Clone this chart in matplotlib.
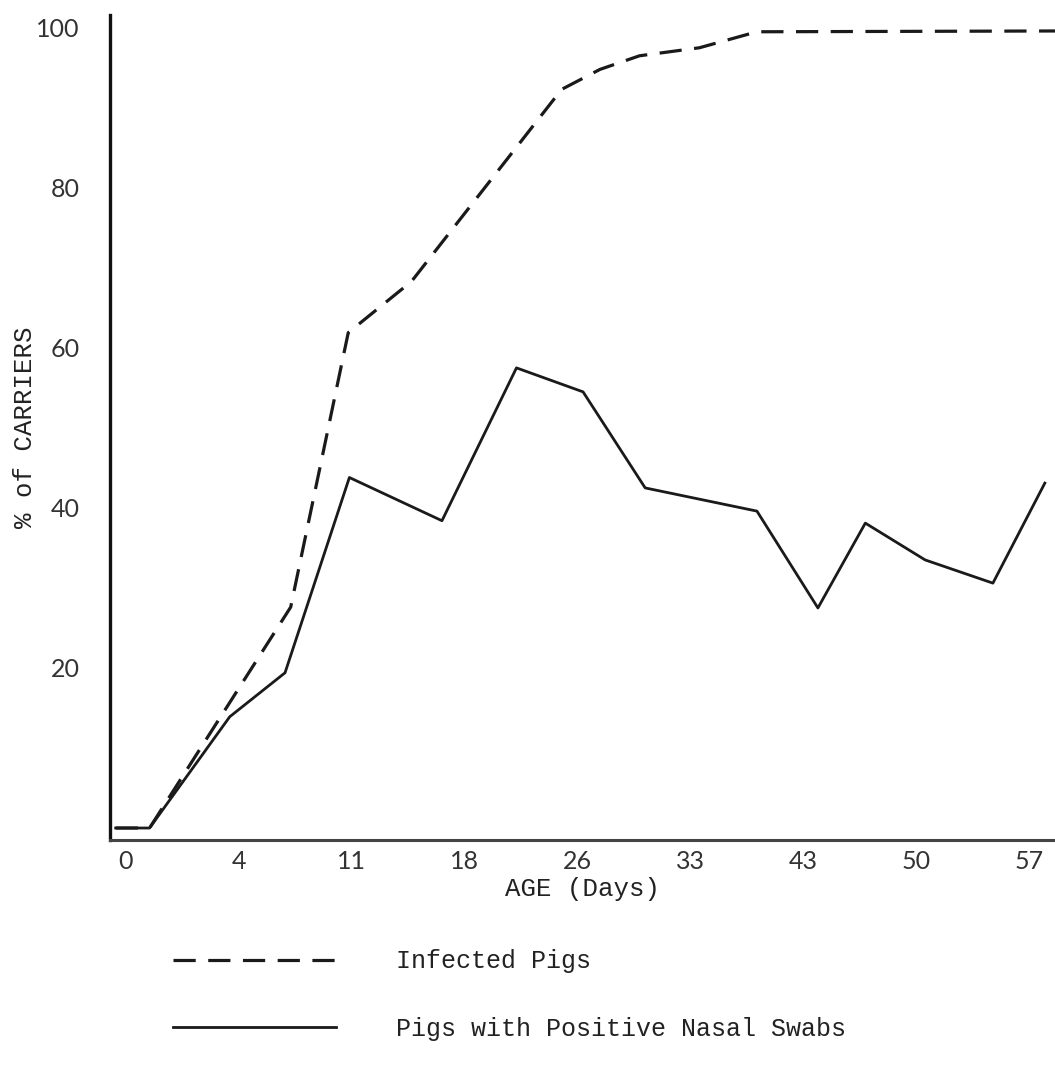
import matplotlib
matplotlib.use("Agg")
import matplotlib.pyplot as plt

# x is in tick-slot units: tick i sits at position i (labels are the ages in days)
age_labels = ["0", "4", "11", "18", "26", "33", "43", "50", "57"]
age_pos = list(range(len(age_labels)))

# pigs with positive nasal swabs (solid)
swab_x = [-0.09, 0.21, 0.92, 1.41, 1.98, 2.80, 3.46, 4.05, 4.60, 5.59, 6.13, 6.55, 7.08, 7.68, 8.14]
swab_y = [0, 0, 13.9, 19.4, 43.8, 38.4, 57.5, 54.5, 42.5, 39.6, 27.5, 38.1, 33.5, 30.6, 43.1]

# infected pigs (dashed)
inf_x = [-0.09, 0.21, 1.46, 1.97, 2.53, 3.86, 4.20, 4.55, 5.08, 5.59, 8.23]
inf_y = [0, 0, 27.6, 61.9, 68.3, 92.3, 94.8, 96.5, 97.5, 99.5, 99.6]

y_ticks = [20, 40, 60, 80, 100]

plt.rcParams["lines.scale_dashes"] = False
mono = "Liberation Mono"

fig = plt.figure(figsize=(10.55, 10.69), dpi=100)
ax = fig.add_axes([0.1043, 0.2142, 0.8957, 0.7718])

ax.plot(inf_x, inf_y, color="#1a1a1a", lw=2.3, dashes=(16, 9),
        solid_joinstyle="round", label="Infected Pigs")
ax.plot(swab_x, swab_y, color="#1a1a1a", lw=2.0,
        label="Pigs with Positive Nasal Swabs")

ax.set_xlim(-0.14, 8.23)
ax.set_ylim(-1.5, 101.6)

ax.set_xticks(age_pos)
ax.set_xticklabels(age_labels)
ax.set_yticks(y_ticks)
ax.tick_params(axis="both", length=0, labelsize=18, colors="#333333")
ax.tick_params(axis="x", pad=7)
ax.tick_params(axis="y", pad=22)
for lab in ax.get_xticklabels() + ax.get_yticklabels():
    lab.set_family("Lato")

for s in ["top", "right"]:
    ax.spines[s].set_visible(False)
ax.spines["left"].set_linewidth(2.4)
ax.spines["left"].set_color("#111111")
ax.spines["bottom"].set_linewidth(2.2)
ax.spines["bottom"].set_color("#444444")

ax.set_xlabel("AGE (Days)", family=mono, fontsize=18.5, color="#222222", labelpad=3)
ax.set_ylabel("% of CARRIERS", family=mono, fontsize=18.5, color="#222222")
ax.yaxis.set_label_coords(-0.077, 0.5)

leg = fig.legend(loc="center left", bbox_to_anchor=(0.164, 0.069), frameon=False,
                 handlelength=6.5, handletextpad=2.4, labelspacing=1.75,
                 borderpad=0, borderaxespad=0,
                 prop={"family": mono, "size": 18})
for t in leg.get_texts():
    t.set_color("#222222")

fig.savefig("out.png", dpi=100)
